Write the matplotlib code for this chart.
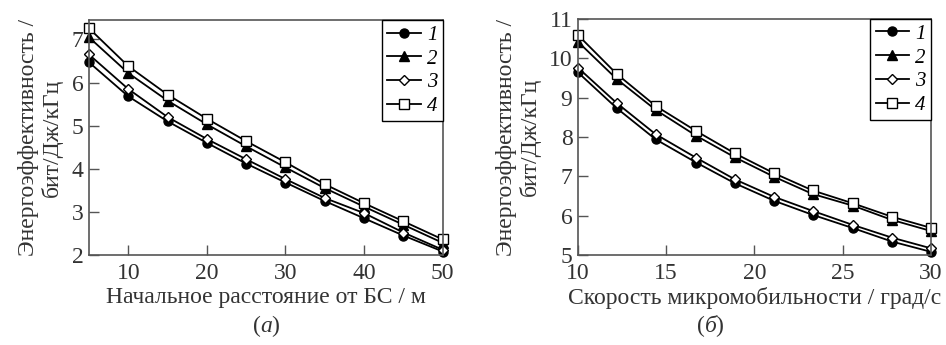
import matplotlib
matplotlib.use("Agg")
import matplotlib.pyplot as plt

plt.rcParams['font.family'] = ['Liberation Serif', 'DejaVu Serif']

# (а) initial distance from base station
dist = [5, 10, 15, 20, 25, 30, 35, 40, 45, 50]
a1 = [6.47, 5.68, 5.10, 4.60, 4.12, 3.68, 3.25, 2.85, 2.45, 2.08]
a2 = [7.05, 6.22, 5.58, 5.03, 4.52, 4.03, 3.55, 3.12, 2.70, 2.28]
a3 = [6.65, 5.85, 5.20, 4.69, 4.22, 3.76, 3.32, 2.97, 2.52, 2.12]
a4 = [7.26, 6.38, 5.72, 5.16, 4.64, 4.15, 3.64, 3.20, 2.78, 2.36]

# (б) micromobility speed
speed = [10.0, 12.2, 14.4, 16.7, 18.9, 21.1, 23.3, 25.6, 27.8, 30.0]
b1 = [9.64, 8.73, 7.94, 7.35, 6.82, 6.38, 6.02, 5.68, 5.34, 5.08]
b2 = [10.42, 9.47, 8.69, 8.03, 7.48, 6.99, 6.55, 6.25, 5.89, 5.61]
b3 = [9.76, 8.86, 8.07, 7.47, 6.92, 6.48, 6.12, 5.76, 5.44, 5.17]
b4 = [10.59, 9.60, 8.79, 8.15, 7.58, 7.08, 6.64, 6.31, 5.97, 5.69]

labels = ["1", "2", "3", "4"]
markers = ["o", "^", "D", "s"]
faces = ["black", "black", "white", "white"]
msizes = [6.5, 6.5, 5.5, 6.5]

ylabel = "Энергоэффективность /\nбит/Дж/кГц"
FS = 17
TXT = "#333333"

fig = plt.figure(figsize=(9.46, 3.45), dpi=100)
ax1 = fig.add_axes([0.094, 0.261, 0.374, 0.681])
ax2 = fig.add_axes([0.611, 0.261, 0.373, 0.684])


def draw(ax, x, series):
    for ys, lab, m, fc, ms in zip(series, labels, markers, faces, msizes):
        ax.plot(x, ys, color="black", lw=1.3, marker=m, mfc=fc, mec="black",
                mew=1.0, ms=ms, label=lab, clip_on=False)
    leg = ax.legend(loc="upper right", borderaxespad=0, fancybox=False,
                    framealpha=1, edgecolor="black",
                    prop={"size": 15, "style": "italic"},
                    handlelength=1.6, handletextpad=0.3, labelspacing=0.2,
                    borderpad=0.25)
    leg.get_frame().set_linewidth(1.0)
    ax.tick_params(direction="in", length=7, width=1, labelsize=FS,
                   color="#555555", labelcolor=TXT, pad=4)
    ax.tick_params(axis="x", pad=6)
    for s in ax.spines.values():
        s.set_color("#555555")
        s.set_linewidth(1.2)
    ax.set_ylabel(ylabel, fontsize=FS, color=TXT, labelpad=6,
                  linespacing=1.1)


def caption(x, letter):
    fig.text(x, 0.055, letter, ha="center", va="center", fontsize=FS,
             color=TXT, style="italic")
    fig.text(x - 0.0055, 0.055, "(", ha="right", va="center", fontsize=FS,
             color=TXT)
    fig.text(x + 0.0055, 0.055, ")", ha="left", va="center", fontsize=FS,
             color=TXT)


draw(ax1, dist, [a1, a2, a3, a4])
ax1.set_xlim(5, 50)
ax1.set_ylim(2, 7.45)
ax1.set_xticks([10, 20, 30, 40, 50])
ax1.set_yticks([2, 3, 4, 5, 6, 7])
ax1.set_xlabel("Начальное расстояние от БС / м", fontsize=FS, color=TXT,
               labelpad=2)

draw(ax2, speed, [b1, b2, b3, b4])
ax2.set_xlim(10, 30)
ax2.set_ylim(5, 11)
ax2.set_xticks([10, 15, 20, 25, 30])
ax2.set_yticks([5, 6, 7, 8, 9, 10, 11])
ax2.set_xlabel("Скорость микромобильности / град/с", fontsize=FS,
               color=TXT, labelpad=2)

caption(0.281, "а")
caption(0.751, "б")

fig.savefig("out.png", dpi=100)
